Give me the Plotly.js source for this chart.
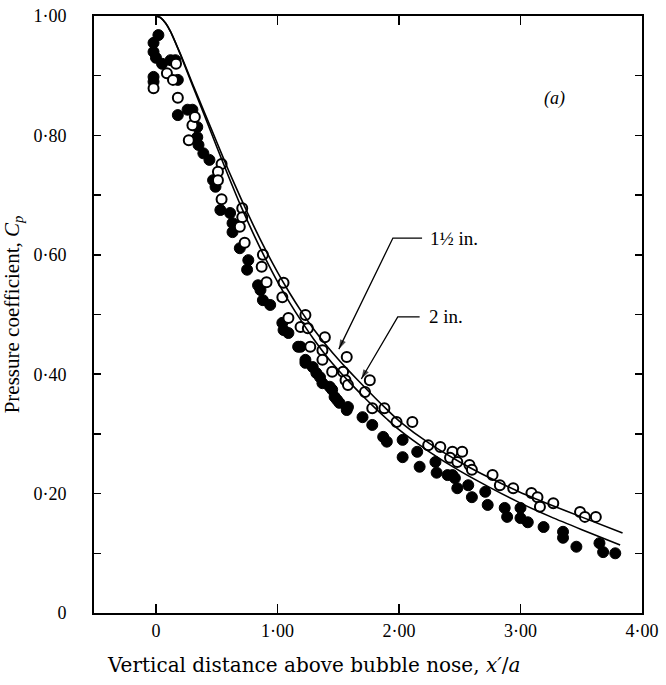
<!DOCTYPE html>
<html>
<head>
<meta charset="utf-8">
<script src="https://cdn.plot.ly/plotly-3.0.1.min.js"></script>
<style>html,body{margin:0;padding:0;background:#fff;}#chart{width:666px;height:685px;}</style>
</head>
<body>
<div id="chart"></div>
<script>
// Open circles
const openX = [-0.02,0.09,0.14,0.165,0.18,0.30,0.27,0.32,0.54,0.51,0.51,0.54,0.71,0.71,0.69,0.73,0.88,0.87,0.91,1.05,1.04,1.09,1.23,1.19,1.25,1.39,1.27,1.37,1.37,1.45,1.57,1.54,1.56,1.58,1.76,1.72,1.78,1.88,1.98,2.11,2.24,2.34,2.44,2.52,2.42,2.48,2.58,2.60,2.77,2.83,2.94,3.09,3.14,3.16,3.27,3.49,3.53,3.62];
const openY = [0.879,0.904,0.893,0.920,0.863,0.817,0.792,0.831,0.752,0.739,0.725,0.693,0.678,0.663,0.647,0.620,0.600,0.580,0.554,0.553,0.529,0.494,0.499,0.479,0.477,0.462,0.446,0.440,0.424,0.404,0.429,0.404,0.390,0.382,0.390,0.370,0.343,0.343,0.320,0.320,0.281,0.278,0.270,0.270,0.260,0.253,0.248,0.240,0.231,0.214,0.209,0.201,0.194,0.178,0.184,0.169,0.161,0.161];
// Filled circles
const fillX = [0.02,-0.02,-0.02,0.00,0.12,0.16,0.05,-0.02,-0.02,0.18,0.26,0.18,0.30,0.34,0.34,0.35,0.39,0.44,0.47,0.49,0.53,0.61,0.63,0.63,0.69,0.76,0.75,0.84,0.86,0.88,0.94,1.04,1.05,1.09,1.17,1.19,1.23,1.23,1.29,1.32,1.35,1.37,1.43,1.45,1.47,1.49,1.51,1.58,1.57,1.70,1.78,1.87,1.90,2.03,2.03,2.15,2.17,2.30,2.31,2.40,2.44,2.46,2.48,2.57,2.60,2.71,2.73,2.87,2.89,3.00,3.00,3.06,3.19,3.35,3.35,3.46,3.65,3.68,3.78];
const fillY = [0.968,0.955,0.940,0.930,0.926,0.926,0.920,0.898,0.890,0.893,0.843,0.834,0.843,0.814,0.797,0.784,0.770,0.759,0.725,0.714,0.675,0.670,0.653,0.638,0.611,0.591,0.575,0.549,0.541,0.524,0.516,0.486,0.474,0.469,0.446,0.446,0.424,0.419,0.412,0.402,0.395,0.385,0.379,0.374,0.362,0.357,0.352,0.345,0.340,0.328,0.315,0.295,0.287,0.290,0.261,0.270,0.245,0.253,0.235,0.231,0.231,0.226,0.209,0.214,0.194,0.203,0.181,0.176,0.161,0.176,0.159,0.152,0.144,0.136,0.126,0.111,0.117,0.102,0.100];
// Theory curves
const curve15X = [0,0.04,0.08,0.12,0.2,0.3,0.4,0.5,0.6,0.7,0.8,0.9,1.0,1.1,1.2,1.3,1.4,1.5,1.6,1.7,1.8,1.9,2.0,2.25,2.5,2.75,3.0,3.25,3.5,3.84];
const curve15Y = [1.0,0.997,0.988,0.974,0.937,0.887,0.838,0.789,0.740,0.694,0.650,0.609,0.571,0.536,0.504,0.475,0.449,0.425,0.403,0.382,0.361,0.341,0.322,0.284,0.253,0.226,0.202,0.181,0.161,0.134];
const curve2X = [0,0.04,0.08,0.12,0.2,0.3,0.4,0.5,0.6,0.7,0.8,0.9,1.0,1.1,1.2,1.3,1.4,1.5,1.6,1.7,1.8,1.9,2.0,2.25,2.5,2.75,3.0,3.25,3.5,3.82];
const curve2Y = [1.0,0.997,0.988,0.974,0.936,0.884,0.833,0.781,0.730,0.681,0.636,0.594,0.555,0.520,0.488,0.458,0.431,0.407,0.385,0.364,0.344,0.325,0.307,0.270,0.238,0.210,0.184,0.161,0.140,0.114];
// Tick labels
const xTickVals = [0,1,2,3,4];
const xTickText = ["0","1·00","2·00","3·00","4·00"];
const yTickVals = [0,0.2,0.4,0.6,0.8,1.0];
const yTickText = ["0","0·20","0·40","0·60","0·80","1·00"];
// Labels and leaders (leader: label end -> elbow -> arrow head)
const label15 = {text:"1½ in.", x:2.24, y:0.628};
const label2 = {text:"2 in.", x:2.23, y:0.496};
const leader15X = [2.19,1.95,1.505], leader15Y = [0.628,0.628,0.442];
const leader2X = [2.17,1.99,1.69], leader2Y = [0.496,0.496,0.392];
const panelLabel = {text:"(a)", x:3.28, y:0.861};
const xTitle = "Vertical distance above bubble nose, <i>x′</i>/<i>a</i>";
const yTitle = "Pressure coefficient, <i>C<sub>p</sub></i>";

const serif = "Liberation Serif, Times New Roman, serif";
const leaderStyle = {color:'#000', width:1.3};
const arrowMarker = {symbol:'arrow', angleref:'previous', size:[0,0,10], color:'#000', line:{width:0}};
const traces = [
  {x:fillX, y:fillY, type:'scatter', mode:'markers', marker:{symbol:'circle', size:11, color:'#000', line:{color:'#000', width:1}}, hoverinfo:'skip'},
  {x:openX, y:openY, type:'scatter', mode:'markers', marker:{symbol:'circle', size:10, color:'#fff', line:{color:'#000', width:2}}, hoverinfo:'skip'},
  {x:curve15X, y:curve15Y, type:'scatter', mode:'lines', line:{color:'#000', width:1.6, shape:'spline', smoothing:0.6}},
  {x:curve2X, y:curve2Y, type:'scatter', mode:'lines', line:{color:'#000', width:1.6, shape:'spline', smoothing:0.6}},
  {x:leader15X, y:leader15Y, type:'scatter', mode:'lines+markers', line:leaderStyle, marker:arrowMarker},
  {x:leader2X, y:leader2Y, type:'scatter', mode:'lines+markers', line:leaderStyle, marker:arrowMarker}
];
const layout = {
  width:666, height:685,
  margin:{l:94, r:24, t:16, b:72},
  paper_bgcolor:'#fff', plot_bgcolor:'#fff',
  showlegend:false,
  font:{family:serif, color:'#000', size:17},
  xaxis:{range:[-0.51,4.0], tickvals:xTickVals, ticktext:xTickText, ticks:'inside', ticklen:9, tickwidth:1.5, tickcolor:'#000',
    showline:true, linecolor:'#000', linewidth:2, mirror:'ticks', showgrid:false, zeroline:false,
    tickfont:{family:serif, size:18, color:'#000'}, ticklabelstandoff:0},
  yaxis:{range:[0,1.0], tickvals:yTickVals, ticktext:yTickText, ticks:'inside', ticklen:7, tickwidth:1.5, tickcolor:'#000',
    minor:{ticks:'inside', ticklen:7, tickwidth:1.5, tickcolor:'#000', dtick:0.1, tick0:0, showgrid:false},
    showline:true, linecolor:'#000', linewidth:2, mirror:'ticks', showgrid:false, zeroline:false,
    tickfont:{family:serif, size:18, color:'#000'}, ticklabelstandoff:22,
    title:{text:yTitle, font:{family:serif, size:21, color:'#000'}, standoff:8}},
  annotations:[
    {x:0.4, y:-0.087, xref:'paper', yref:'paper', text:xTitle, showarrow:false, xanchor:'center', yanchor:'middle', font:{family:"DejaVu Serif, serif", size:20, color:'#000'}},
    {x:panelLabel.x, y:panelLabel.y, xref:'x', yref:'y', text:"<i>"+panelLabel.text+"</i>", showarrow:false, font:{family:serif, size:18}},
    {x:label15.x, y:label15.y, xref:'x', yref:'y', text:label15.text, showarrow:false, xanchor:'left', font:{family:serif, size:19}},
    {x:label2.x, y:label2.y, xref:'x', yref:'y', text:label2.text, showarrow:false, xanchor:'left', font:{family:serif, size:19}}
  ]
};
Plotly.newPlot('chart', traces, layout, {staticPlot:true, displayModeBar:false});
</script>
</body>
</html>
